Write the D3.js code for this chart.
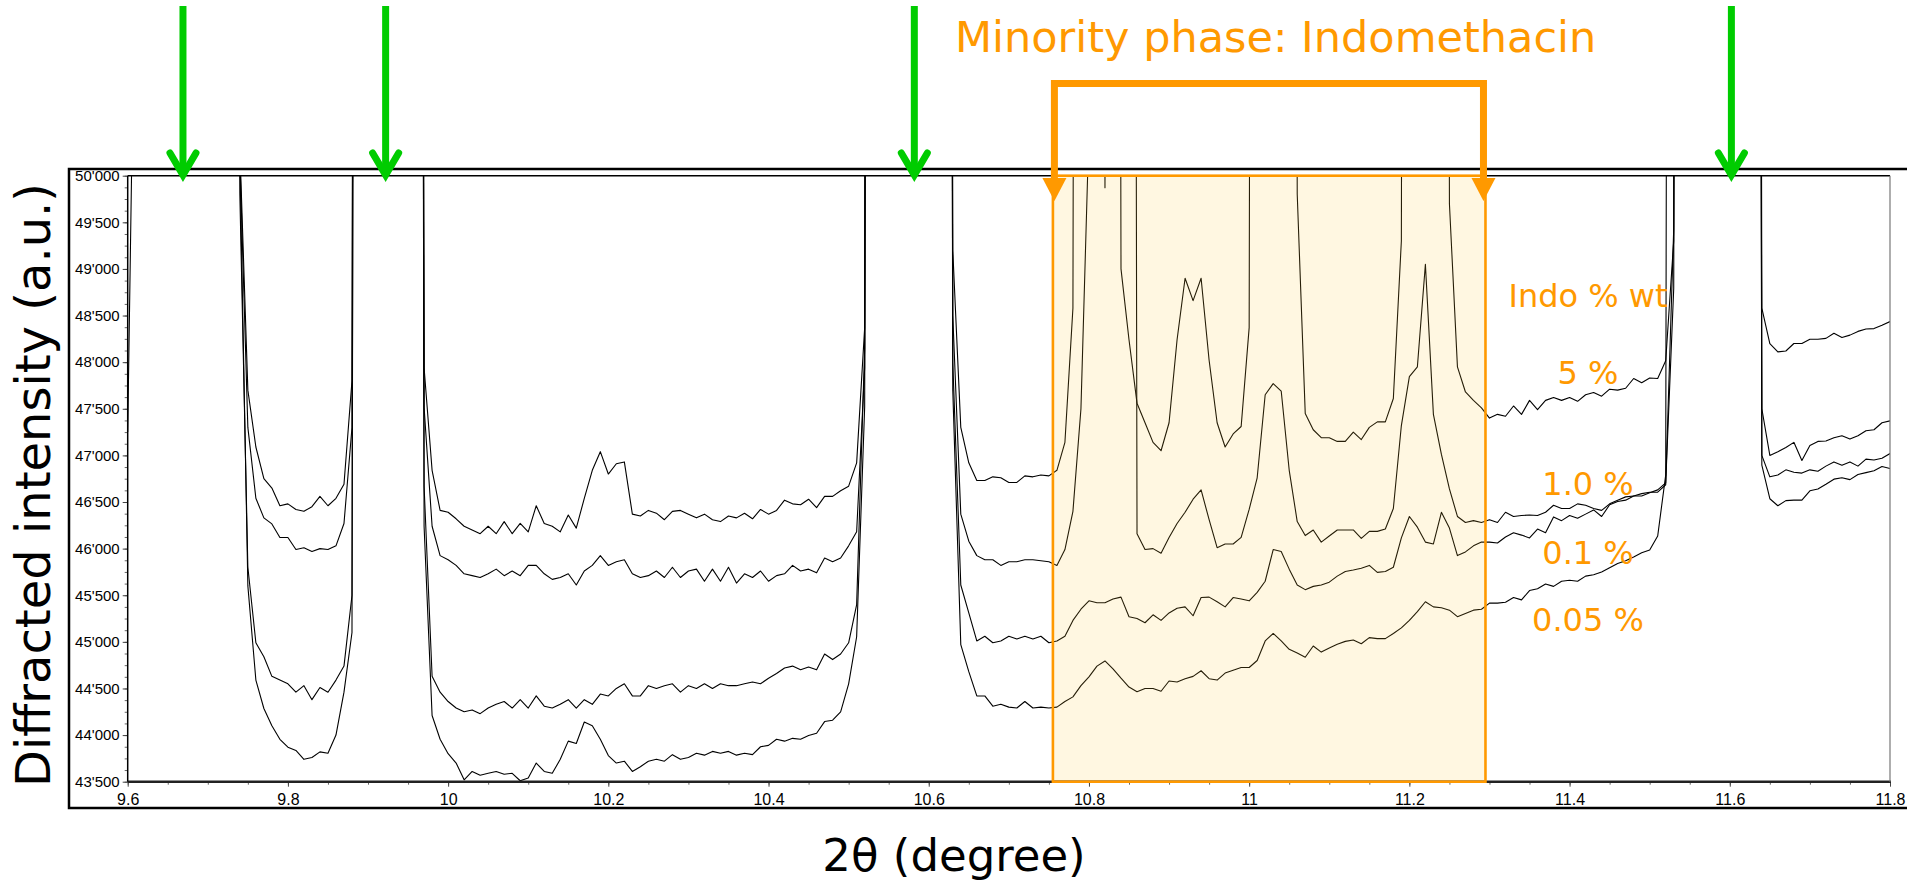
<!DOCTYPE html>
<html>
<head>
<meta charset="utf-8">
<script src="https://cdn.jsdelivr.net/npm/d3@7"></script>
<style>
  html, body { margin: 0; padding: 0; background: #fff; }
  svg { display: block; }
</style>
</head>
<body>
<div id="chart"></div>
<script>
// XRD scans, 2theta from 9.60 deg in steps of 0.01 deg
const thetaStart = 9.6;
const thetaStep = 0.01;
const OFF = 90000; // main phase reflections, far above the 50'000 cut

// Indomethacin 5 % wt
const indo5 = [
  47250,53000,OFF,OFF,OFF,OFF,OFF,OFF,OFF,OFF,
  OFF,OFF,OFF,OFF,50300,47700,47090,46750,46650,46460,
  46480,46420,46400,46450,46560,46460,46540,46690,47800,OFF,
  OFF,OFF,OFF,OFF,OFF,OFF,OFF,47940,46840,46410,
  46390,46320,46240,46200,46160,46240,46160,46290,46160,46270,
  46180,46460,46270,46240,46180,46360,46220,46540,46840,47040,
  46800,46910,46930,46370,46350,46410,46380,46310,46400,46410,
  46370,46330,46370,46310,46290,46350,46330,46380,46320,46420,
  46370,46410,46520,46480,46470,46530,46440,46560,46560,46620,
  46670,46920,48370,OFF,OFF,OFF,OFF,OFF,OFF,OFF,
  OFF,OFF,OFF,49200,47300,46920,46730,46730,46770,46760,
  46710,46710,46780,46770,46790,46780,46840,47140,48580,OFF,
  OFF,OFF,49870,OFF,49000,48240,47560,47350,47140,47050,
  47350,48240,48900,48660,48900,48020,47350,47090,47230,47310,
  48370,OFF,OFF,OFF,OFF,OFF,49800,47450,47275,47190,
  47190,47150,47150,47250,47170,47300,47360,47360,47610,49300,
  OFF,OFF,OFF,OFF,OFF,49700,47950,47680,47590,47510,
  47400,47440,47420,47530,47440,47590,47490,47590,47620,47590,
  47620,47580,47650,47675,47635,47710,47700,47720,47825,47780,
  47830,47825,48015,49300,OFF,OFF,OFF,OFF,OFF,OFF,
  OFF,OFF,OFF,OFF,48580,48200,48110,48120,48200,48200,
  48245,48245,48255,48310,48265,48290,48330,48355,48360,48395,
  48435
];

// Indomethacin 1.0 % wt
const indo1 = [
  OFF,OFF,OFF,OFF,OFF,OFF,OFF,OFF,OFF,OFF,
  OFF,OFF,OFF,OFF,50200,47300,46540,46330,46265,46120,
  46120,45990,46010,45970,46000,45990,46030,46270,47300,OFF,
  OFF,OFF,OFF,OFF,OFF,OFF,OFF,47515,46240,45925,
  45880,45820,45730,45710,45690,45730,45780,45710,45760,45710,
  45820,45820,45730,45670,45690,45730,45610,45760,45820,45925,
  45820,45860,45880,45730,45690,45710,45760,45690,45800,45690,
  45760,45780,45650,45780,45650,45800,45630,45730,45690,45760,
  45650,45710,45730,45820,45760,45780,45740,45900,45860,45900,
  46030,46180,47940,OFF,OFF,OFF,OFF,OFF,OFF,OFF,
  OFF,OFF,OFF,48500,46370,46080,45925,45880,45880,45820,
  45860,45860,45880,45880,45870,45860,45820,45990,46400,47500,
  50500,OFF,OFF,OFF,OFF,OFF,46160,45990,46000,45950,
  46120,46270,46390,46530,46630,46310,46010,46050,46050,46120,
  46420,46760,47650,47770,47690,46840,46290,46140,46200,46070,
  46135,46200,46200,46200,46110,46185,46185,46210,46430,47320,
  47845,47950,49050,47440,47010,46640,46345,46280,46300,46280,
  46310,46280,46390,46345,46355,46360,46355,46390,46465,46430,
  46430,46480,46465,46430,46410,46480,46520,46555,46565,46565,
  46600,46630,46705,48790,OFF,OFF,OFF,OFF,OFF,OFF,
  OFF,OFF,OFF,OFF,47500,47000,47040,47085,47140,46945,
  47106,47150,47155,47190,47210,47175,47210,47265,47275,47350,
  47370
];

// Indomethacin 0.1 % wt
const indo01 = [
  OFF,OFF,OFF,OFF,OFF,OFF,OFF,OFF,OFF,OFF,
  OFF,OFF,OFF,OFF,49800,45800,44990,44840,44630,44590,
  44550,44460,44530,44380,44510,44460,44590,44740,45500,OFF,
  OFF,OFF,OFF,OFF,OFF,OFF,OFF,46670,44630,44460,
  44360,44290,44250,44270,44230,44290,44330,44360,44290,44380,
  44290,44420,44310,44290,44330,44380,44290,44380,44330,44440,
  44420,44500,44550,44420,44420,44530,44500,44530,44550,44460,
  44530,44500,44550,44500,44550,44530,44530,44550,44570,44550,
  44610,44660,44720,44740,44700,44730,44700,44870,44810,44870,
  44990,45400,48150,OFF,OFF,OFF,OFF,OFF,OFF,OFF,
  OFF,OFF,OFF,48000,45610,45310,45010,45060,44990,45010,
  45060,45030,45060,45030,45060,44990,45010,45060,45230,45350,
  45440,45420,45420,45460,45480,45270,45250,45205,45290,45230,
  45310,45360,45375,45280,45475,45480,45430,45375,45475,45460,
  45440,45530,45650,45990,45970,45780,45610,45560,45595,45610,
  45640,45705,45755,45770,45790,45820,45745,45755,45800,46115,
  46345,46230,46070,46050,46390,46220,45925,45965,46030,46070,
  46070,46060,46125,46170,46145,46115,46210,46170,46340,46300,
  46355,46325,46370,46415,46345,46470,46505,46520,46565,46590,
  46605,46605,46685,49430,OFF,OFF,OFF,OFF,OFF,OFF,
  OFF,OFF,OFF,OFF,47000,46770,46790,46845,46820,46810,
  46845,46830,46885,46930,46895,46930,46885,46960,46950,46970,
  47020
];

// Indomethacin 0.05 % wt
const indo005 = [
  OFF,OFF,OFF,OFF,OFF,OFF,OFF,OFF,OFF,OFF,
  OFF,OFF,OFF,OFF,50200,45600,44590,44285,44100,43955,
  43870,43835,43740,43760,43820,43805,44000,44460,45100,OFF,
  OFF,OFF,OFF,OFF,OFF,OFF,OFF,46240,44210,43955,
  43800,43700,43520,43610,43570,43590,43610,43580,43590,43510,
  43540,43700,43610,43590,43740,43935,43910,44140,44100,43955,
  43780,43700,43720,43610,43660,43720,43740,43720,43790,43740,
  43760,43805,43785,43825,43805,43825,43785,43805,43790,43875,
  43890,43955,43935,43965,43955,43995,44020,44145,44160,44250,
  44550,45055,47520,OFF,OFF,OFF,OFF,OFF,OFF,OFF,
  OFF,OFF,OFF,47700,44970,44680,44420,44420,44310,44330,
  44300,44290,44360,44290,44300,44290,44300,44360,44410,44530,
  44625,44740,44795,44710,44610,44515,44465,44500,44500,44470,
  44580,44570,44605,44630,44690,44605,44590,44665,44695,44725,
  44725,44800,45010,45090,45010,44920,44880,44835,44955,44890,
  44935,44975,45005,45020,44980,45045,45035,45035,45090,45150,
  45230,45325,45430,45375,45365,45340,45270,45305,45340,45350,
  45415,45415,45425,45475,45450,45550,45570,45620,45595,45650,
  45660,45650,45705,45720,45750,45795,45840,45870,45910,45955,
  45985,46135,46790,OFF,OFF,OFF,OFF,OFF,OFF,OFF,
  OFF,OFF,OFF,OFF,46895,46535,46460,46515,46520,46520,
  46620,46640,46690,46745,46760,46740,46795,46815,46835,46880,
  46860
];

const scans = [indo5, indo1, indo01, indo005];

// axis ticks
const thetaTicks = [9.6, 9.8, 10, 10.2, 10.4, 10.6, 10.8, 11, 11.2, 11.4, 11.6, 11.8];
const intensityTicks = [43500, 44000, 44500, 45000, 45500, 46000, 46500, 47000, 47500, 48000, 48500, 49000, 49500, 50000];

// annotations
const mainPeaks = [9.669, 9.922, 10.582, 11.602];   // green arrows
const indoRange = [10.755, 11.295];                  // minority phase window
const legendLabels = ["Indo % wt", "5 %", "1.0 %", "0.1 %", "0.05 %"];
const legendIntensity = [48590, 47770, 46575, 45835, 45115];
const legendTheta = 11.423;

// layout
const W = 1907, H = 883;
const plot = {left: 127.7, right: 1890, top: 175.7, bottom: 781.7};
const orange = "#ff9900";
const green = "#00cc00";
const titleFont = "'DejaVu Sans', Verdana, sans-serif";

const x = d3.scaleLinear().domain([9.6, 11.8]).range([plot.left, plot.right]);
const y = d3.scaleLinear().domain([43500, 50000]).range([plot.bottom, plot.top]);

const fmtY = d3.formatLocale({decimal: ".", thousands: "'", grouping: [3], currency: ["", ""]}).format(",");

const svg = d3.select("#chart").append("svg")
  .attr("width", W)
  .attr("height", H)
  .style("font-family", "'Liberation Sans', Arial, sans-serif");

// outer frame
svg.append("rect")
  .attr("x", 69).attr("y", 169)
  .attr("width", 1900).attr("height", 639)
  .attr("fill", "none")
  .attr("stroke", "#000")
  .attr("stroke-width", 2.5);

svg.append("defs").append("clipPath")
  .attr("id", "plot-clip")
  .append("rect")
    .attr("x", plot.left).attr("y", plot.top)
    .attr("width", plot.right - plot.left)
    .attr("height", plot.bottom - plot.top);

// scans
const thetaAt = i => +(thetaStart + i * thetaStep).toFixed(2);
const line = d3.line()
  .x((d, i) => x(thetaAt(i)))
  .y(d => y(d));

svg.append("g")
  .attr("clip-path", "url(#plot-clip)")
  .selectAll("path")
  .data(scans)
  .join("path")
    .attr("d", line)
    .attr("fill", "none")
    .attr("stroke", "#000")
    .attr("stroke-width", 1.1)
    .attr("stroke-linejoin", "round");

// shaded window (laid over the scans)
svg.append("rect")
  .attr("x", x(indoRange[0])).attr("y", plot.top)
  .attr("width", x(indoRange[1]) - x(indoRange[0]))
  .attr("height", plot.bottom - plot.top)
  .attr("fill", "#ffcc33")
  .attr("fill-opacity", 0.15);

// minor ticks
const thetaMinor = d3.range(0, 45).map(i => +(9.6 + i * 0.05).toFixed(2));
const intensityMinor = d3.range(0, 53).map(i => 43500 + i * 125);

svg.append("g")
  .attr("transform", `translate(0,${plot.bottom})`)
  .call(d3.axisBottom(x).tickValues(thetaMinor).tickSize(3).tickFormat(""))
  .call(g => g.select(".domain").remove())
  .call(g => g.selectAll("line").attr("stroke", "#666"));

svg.append("g")
  .attr("transform", `translate(${plot.left},0)`)
  .call(d3.axisLeft(y).tickValues(intensityMinor).tickSize(3).tickFormat(""))
  .call(g => g.select(".domain").remove())
  .call(g => g.selectAll("line").attr("stroke", "#666"));

// major ticks + labels
svg.append("g")
  .attr("transform", `translate(0,${plot.bottom})`)
  .call(d3.axisBottom(x).tickValues(thetaTicks).tickSize(5).tickPadding(6.5).tickFormat(d => String(d)))
  .call(g => g.select(".domain").remove())
  .call(g => g.selectAll("line").attr("stroke", "#444"))
  .call(g => g.selectAll("text").attr("fill", "#000").style("font-size", "16px"));

svg.append("g")
  .attr("transform", `translate(${plot.left},0)`)
  .call(d3.axisLeft(y).tickValues(intensityTicks).tickSize(5).tickPadding(3).tickFormat(fmtY))
  .call(g => g.select(".domain").remove())
  .call(g => g.selectAll("line").attr("stroke", "#444"))
  .call(g => g.selectAll("text").attr("fill", "#000").style("font-size", "15px"));

// plot borders
svg.append("line")
  .attr("x1", plot.left).attr("x2", plot.right + 1)
  .attr("y1", plot.bottom).attr("y2", plot.bottom)
  .attr("stroke", "#222").attr("stroke-width", 2.5);
svg.append("line")
  .attr("x1", plot.left).attr("x2", plot.right)
  .attr("y1", plot.top).attr("y2", plot.top)
  .attr("stroke", "#000").attr("stroke-width", 1.6);
svg.append("line")
  .attr("x1", plot.left).attr("x2", plot.left)
  .attr("y1", plot.top).attr("y2", plot.bottom)
  .attr("stroke", "#000").attr("stroke-width", 1.5);
svg.append("line")
  .attr("x1", plot.right).attr("x2", plot.right)
  .attr("y1", plot.top).attr("y2", plot.bottom)
  .attr("stroke", "#777").attr("stroke-width", 1.2);

// window border
svg.append("rect")
  .attr("x", x(indoRange[0])).attr("y", plot.top)
  .attr("width", x(indoRange[1]) - x(indoRange[0]))
  .attr("height", plot.bottom - plot.top)
  .attr("fill", "none")
  .attr("stroke", orange)
  .attr("stroke-width", 2.6);

// green arrows on the main phase reflections
const arrows = svg.append("g")
  .attr("stroke", green)
  .attr("stroke-width", 7)
  .attr("fill", "none");
mainPeaks.forEach(t => {
  const px = x(t);
  arrows.append("line")
    .attr("x1", px).attr("x2", px)
    .attr("y1", 6).attr("y2", 174);
  arrows.append("path")
    .attr("d", `M${px - 13},153 L${px},175 L${px + 13},153`)
    .attr("stroke-linecap", "round")
    .attr("stroke-linejoin", "miter");
});

// orange bracket
const bx0 = x(indoRange[0]) + 1.5;
const bx1 = x(indoRange[1]) - 2;
svg.append("path")
  .attr("d", `M${bx0},181 V83.5 H${bx1} V181`)
  .attr("fill", "none")
  .attr("stroke", orange)
  .attr("stroke-width", 7);
[bx0, bx1].forEach(bx => {
  svg.append("path")
    .attr("d", `M${bx - 12},178 L${bx + 12},178 L${bx},201 Z`)
    .attr("fill", orange);
});

svg.append("text")
  .attr("x", 955).attr("y", 52)
  .attr("fill", orange)
  .style("font-family", titleFont)
  .style("font-size", "43px")
  .text("Minority phase: Indomethacin");

// series labels
svg.append("g")
  .selectAll("text")
  .data(legendLabels)
  .join("text")
    .attr("x", x(legendTheta))
    .attr("y", (d, i) => y(legendIntensity[i]))
    .attr("text-anchor", "middle")
    .attr("fill", orange)
    .style("font-family", titleFont)
    .style("font-size", "32px")
    .text(d => d);

// axis titles
svg.append("text")
  .attr("transform", "translate(50,485) rotate(-90)")
  .attr("text-anchor", "middle")
  .attr("fill", "#000")
  .style("font-family", titleFont)
  .style("font-size", "48px")
  .text("Diffracted intensity (a.u.)");

svg.append("text")
  .attr("x", 954).attr("y", 871)
  .attr("text-anchor", "middle")
  .attr("fill", "#000")
  .style("font-family", titleFont)
  .style("font-size", "45px")
  .text("2θ (degree)");
</script>
</body>
</html>
